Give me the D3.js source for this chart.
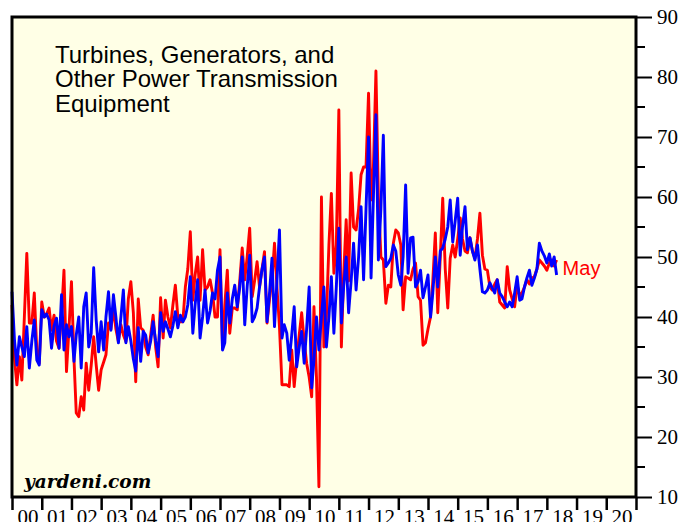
<!DOCTYPE html>
<html>
<head>
<meta charset="utf-8">
<script src="https://cdn.jsdelivr.net/npm/d3@7"></script>
<style>
  html, body { margin: 0; padding: 0; background: #fff; }
  svg { display: block; }
</style>
</head>
<body>
<svg id="chart" width="696" height="522"></svg>
<script>
// monthly, Jan 2000 .. May 2018
const startYear = 2000;
const seriesRed = [
  42, 33, 28.7, 33.4, 29.5, 40, 50.6, 39, 39, 44, 34.5, 32.3,
  42.5, 40, 40.5, 41.5, 37.8, 40.3, 36, 34.8, 40.3, 47.8, 30.9, 38,
  45.9, 33, 24, 23.4, 26.7, 24.5, 32.3, 27.8, 32, 36.7, 32, 27.8,
  31.2, 32.5, 33.7, 39, 38, 41.5, 38, 35.9, 38.7, 37, 35.9, 43,
  45.9, 40.7, 29.2, 43, 38.2, 37.8, 35, 33.7, 37, 40.3, 35, 31.7,
  43.2, 36.5, 42.8, 40, 38.2, 42, 45.3, 40, 39.2, 39.2, 45, 48,
  54.2, 42.8, 47, 50, 42.8, 51.2, 44.5, 45, 46.2, 44, 40, 40,
  51.2, 35, 42, 47.8, 37.3, 41.5, 41.5, 41.2, 46, 51.5, 46.2, 50,
  54.8, 43.4, 46, 49.2, 45, 48, 50.9, 39, 43, 46.2, 52.3, 45,
  38.4, 28.7, 28.7, 28.7, 28.4, 34.5, 28.4, 33, 37, 40.7, 36, 32.3,
  30, 26.7, 41.7, 30, 11.7, 60, 35, 40, 52, 60.6, 47.3, 52,
  74.5, 35, 47, 56.2, 46, 64, 55, 54.5, 58, 63.7, 65, 65,
  77.3, 59.5, 65, 81, 60, 50, 49.5, 42.3, 45.3, 45, 52.3, 54.5,
  54, 52, 41.2, 46.7, 46.5, 46.2, 48, 49, 43.4, 42.8, 35.3, 35.7,
  38, 40, 46, 54, 40.7, 50, 59.8, 48, 41.5, 49.8, 52, 50,
  53, 56.5, 53, 51, 50.7, 53.2, 51, 49.8, 53, 57.3, 50.3, 48,
  47.8, 45, 44.5, 45.5, 46.2, 42.5, 42, 41.5, 48.4, 44.5, 43, 41.7,
  45.3, 43.5, 44, 45, 46.2, 45.5, 46.5, 46.7, 48, 49.5, 49, 48.5,
  47.8, 49, 49.5, 48.5, 49.5
];
const seriesBlue = [
  44.2, 36, 32, 36.7, 35, 33.4, 38.4, 31.5, 36, 39.5, 32.8, 32,
  41.2, 40, 40.5, 39.5, 34.8, 38.5, 39.8, 34.8, 43.7, 34.5, 38.7, 36.7,
  38.4, 32.6, 37, 40, 31.5, 41.7, 44, 35, 37.3, 48.2, 39.5, 34.2,
  39.2, 34.5, 40, 44.2, 37.8, 43.7, 40, 35.7, 40, 44.5, 35.7, 38.4,
  36, 33, 31, 38.2, 32.6, 37.6, 37, 34, 36, 39.2, 36, 33.4,
  40.7, 37.6, 39.2, 38, 36.7, 38.5, 40.9, 38.2, 40.3, 39.2, 40, 42,
  46.7, 37.3, 42, 46.2, 36.5, 40, 44.5, 39, 41, 44, 43, 47.8,
  50, 34.5, 35.7, 44, 39, 43, 45.3, 41.7, 45, 50, 38.7, 45,
  50.3, 39.2, 40, 41.5, 45, 48, 50, 39.2, 44, 49.8, 38.4, 46,
  54.5, 36.5, 38.7, 37.3, 32.8, 37, 41.7, 31.7, 35, 37.6, 32.3, 38,
  45, 28.2, 32.8, 40, 34.5, 40, 45, 35, 40, 46.7, 37.3, 45,
  54.8, 39, 45, 50, 40.7, 46, 52.3, 44.5, 50, 58.4, 46.2, 58,
  70, 46.5, 60, 73.7, 49.5, 58, 70.3, 48.4, 49, 49.8, 52, 51,
  47, 45.3, 50, 62, 47.3, 53.2, 53.3, 45, 45.9, 47.8, 43.2, 45,
  47, 40, 44, 50, 45, 51, 51.5, 53, 55, 59.5, 52.5, 56,
  59.8, 50.3, 55, 58.4, 51.2, 53.2, 51, 49.5, 52, 48, 44.2, 44,
  44.5, 45.7, 44.8, 44, 46.2, 44, 43.4, 42.5, 41.7, 42.5, 41.7, 44,
  46.7, 42.8, 43, 45, 46.5, 47.8, 45.3, 46.5, 48, 52.3, 51, 50.2,
  49, 50.5, 48.5, 50, 47
];
const yTicks = [10, 20, 30, 40, 50, 60, 70, 80, 90];
const yMinor = [15, 25, 35, 45, 55, 65, 75, 85];
const yearLabels = d3.range(2000, 2021);
const titleLines = ["Turbines, Generators, and", "Other Power Transmission", "Equipment"];

(() => {
  const svg = d3.select("#chart");
  const left = 12, right = 636, plotTop = 17, bottom = 497;

  const x = d3.scaleTime()
    .domain([new Date(2000, 0, 1), new Date(2021, 0, 1)])
    .range([left, right]);
  const y = d3.scaleLinear().domain([10, 90]).range([bottom, plotTop]);

  const dateOf = i => new Date(startYear, i, 1);
  const toPts = arr => arr.map((v, i) => ({ date: dateOf(i), value: v }));

  // background
  svg.append("rect")
    .attr("x", left).attr("y", plotTop)
    .attr("width", right - left).attr("height", bottom - plotTop)
    .attr("fill", "#ffffe6");

  // title
  svg.append("text")
    .attr("x", 55).attr("y", 63)
    .style("font", "24px 'Liberation Sans', Arial, sans-serif")
    .attr("fill", "#000")
    .selectAll("tspan")
    .data(titleLines)
    .join("tspan")
    .attr("x", 55)
    .attr("dy", (d, i) => i === 0 ? 0 : 24.4)
    .text(d => d);

  const line = d3.line().x(d => x(d.date)).y(d => y(d.value));

  svg.append("path")
    .datum(toPts(seriesRed))
    .attr("fill", "none")
    .attr("stroke", "#ff0000")
    .attr("stroke-width", 2.9)
    .attr("stroke-linejoin", "round")
    .attr("d", line);

  svg.append("path")
    .datum(toPts(seriesBlue))
    .attr("fill", "none")
    .attr("stroke", "#0000ff")
    .attr("stroke-width", 2.9)
    .attr("stroke-linejoin", "round")
    .attr("d", line);

  // end label
  const lastRed = seriesRed[seriesRed.length - 1];
  svg.append("text")
    .attr("x", x(dateOf(seriesRed.length - 1)) + 6)
    .attr("y", y(lastRed) + 8)
    .attr("dy", "0.35em")
    .attr("fill", "#ff0000")
    .style("font", "20px 'Liberation Sans', Arial, sans-serif")
    .text("May");

  svg.append("text")
    .attr("x", 24).attr("y", 488)
    .style("font", "italic bold 18.5px 'DejaVu Serif', serif")
    .attr("fill", "#000")
    .text("yardeni.com");

  // frame
  svg.append("rect")
    .attr("x", left).attr("y", plotTop)
    .attr("width", right - left).attr("height", bottom - plotTop)
    .attr("fill", "none")
    .attr("stroke", "#000")
    .attr("stroke-width", 3);

  // right axis
  const yAxis = svg.append("g")
    .attr("transform", `translate(${right},0)`)
    .call(d3.axisRight(y).tickValues(yTicks).tickSize(16).tickPadding(5))
    .call(g => g.select(".domain").remove());
  yAxis.selectAll(".tick line").attr("stroke-width", 2);
  yAxis.selectAll(".tick text")
    .style("font", "21px 'Liberation Serif', 'Times New Roman', serif")
    .attr("fill", "#000");
  svg.append("g")
    .selectAll("line")
    .data(yMinor)
    .join("line")
    .attr("x1", right).attr("x2", right + 9)
    .attr("y1", d => y(d)).attr("y2", d => y(d))
    .attr("stroke", "#000").attr("stroke-width", 2);

  // bottom axis
  const xAxis = svg.append("g")
    .attr("transform", `translate(0,${bottom})`)
    .call(d3.axisBottom(x).ticks(d3.timeYear.every(1)).tickSize(13).tickFormat(""))
    .call(g => g.select(".domain").remove());
  xAxis.selectAll(".tick line").attr("stroke-width", 2.5);

  svg.append("g")
    .selectAll("text")
    .data(yearLabels)
    .join("text")
    .attr("x", d => (x(new Date(d, 0, 1)) + x(new Date(d + 1, 0, 1))) / 2 + 1)
    .attr("y", 524)
    .attr("text-anchor", "middle")
    .style("font", "21px 'Liberation Serif', 'Times New Roman', serif")
    .text(d => String(d % 100).padStart(2, "0"));
})();
</script>
</body>
</html>
